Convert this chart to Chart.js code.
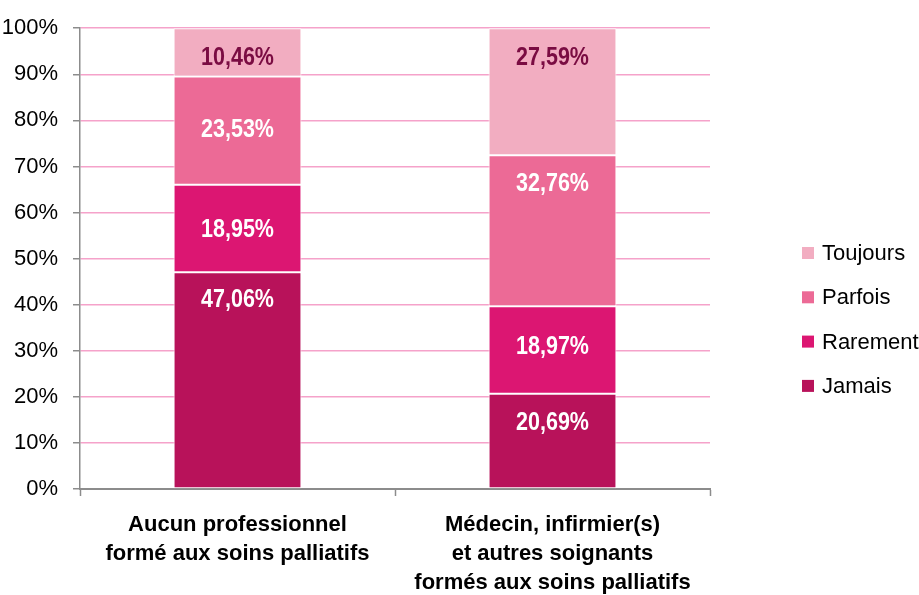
<!DOCTYPE html>
<html>
<head>
<meta charset="utf-8">
<script src="https://cdn.jsdelivr.net/npm/chart.js@4"></script>
<style>
  html, body { margin: 0; padding: 0; background: #fff; }
  #wrap { width: 919px; height: 595px; }
</style>
</head>
<body>
<div id="wrap"><canvas id="myChart" width="919" height="595"></canvas></div>
<script>
const categories = [
  ['Aucun professionnel', 'formé aux soins palliatifs'],
  ['Médecin, infirmier(s)', 'et autres soignants', 'formés aux soins palliatifs']
];
const seriesNames = ['Jamais', 'Rarement', 'Parfois', 'Toujours'];
const jamais = [47.06, 20.69];
const rarement = [18.95, 18.97];
const parfois = [23.53, 32.76];
const toujours = [10.46, 27.59];
const yTicks = [0, 10, 20, 30, 40, 50, 60, 70, 80, 90, 100];

// where each value label sits inside its segment (0 = top, 1 = bottom)
const labelSpot = [
  [0.12, 0.29],
  [0.5, 0.45],
  [0.48, 0.18],
  [0.58, 0.22]
];

const FONT = '"Liberation Sans", Arial, sans-serif';
const colors = ['#B8125A', '#DC1672', '#EC6A96', '#F2ADC1'];
const labelColors = ['#fff', '#fff', '#fff', '#7A0C42'];

const fmt = v => v.toFixed(2).replace('.', ',') + '%';

const valueLabels = {
  id: 'valueLabels',
  afterDatasetsDraw(chart) {
    const ctx = chart.ctx;
    chart.data.datasets.forEach((ds, i) => {
      chart.getDatasetMeta(i).data.forEach((bar, j) => {
        const top = bar.y, bottom = bar.base;
        const y = top + labelSpot[i][j] * (bottom - top) + 2;
        ctx.save();
        // squeeze the bold text a little so it reads like a narrow face
        ctx.translate(bar.x, y);
        ctx.scale(0.86, 1);
        ctx.font = 'bold 25px ' + FONT;
        ctx.textAlign = 'center';
        ctx.textBaseline = 'middle';
        ctx.fillStyle = labelColors[i];
        ctx.fillText(fmt(ds.data[j]), 0, 0);
        ctx.restore();
      });
    });
  }
};

// legend on the right, top item first
const sideLegend = {
  id: 'sideLegend',
  afterDraw(chart) {
    const ctx = chart.ctx;
    ctx.save();
    ctx.font = '22px ' + FONT;
    ctx.textBaseline = 'middle';
    ctx.textAlign = 'left';
    const items = chart.data.datasets.slice().reverse();
    items.forEach((ds, k) => {
      const cy = 253 + k * 44.3;
      ctx.fillStyle = ds.backgroundColor;
      ctx.fillRect(802, cy - 6, 12, 12);
      ctx.fillStyle = '#000';
      ctx.fillText(ds.label, 822, cy + 1);
    });
    ctx.restore();
  }
};

const makeSet = (name, values, i) => ({
  label: name,
  data: values,
  backgroundColor: colors[i],
  borderColor: '#fff',
  borderWidth: 1,
  borderSkipped: false,
  barPercentage: 0.406,
  categoryPercentage: 1
});

const ctx = document.getElementById('myChart').getContext('2d');
const chart = new Chart(ctx, {
  type: 'bar',
  data: {
    labels: categories,
    datasets: [
      makeSet(seriesNames[0], jamais, 0),
      makeSet(seriesNames[1], rarement, 1),
      makeSet(seriesNames[2], parfois, 2),
      makeSet(seriesNames[3], toujours, 3)
    ]
  },
  options: {
    responsive: false,
    animation: false,
    layout: { padding: { top: 27, right: 209, left: 0, bottom: 0 } },
    plugins: {
      legend: { display: false },
      tooltip: { enabled: false }
    },
    scales: {
      x: {
        stacked: true,
        border: { color: '#8c8c8c', width: 2 },
        grid: {
          offset: true,
          drawOnChartArea: false,
          tickLength: 7,
          tickColor: '#8c8c8c',
          tickWidth: 1.5
        },
        ticks: {
          color: '#000',
          padding: 14,
          maxRotation: 0,
          font: { family: FONT, size: 22, weight: 'bold', lineHeight: 1.32 }
        },
        afterFit(scale) { scale.height = 106; }
      },
      y: {
        stacked: true,
        min: 0,
        max: 100,
        afterBuildTicks(scale) { scale.ticks = yTicks.map(v => ({ value: v })); },
        border: { color: '#8c8c8c', width: 1.5 },
        grid: {
          color: c => (c.tick && c.tick.value === 0 ? 'rgba(0,0,0,0)' : '#F5A2CA'),
          lineWidth: 1.5,
          tickLength: 7,
          tickColor: '#8c8c8c',
          tickWidth: 1.5
        },
        ticks: {
          color: '#000',
          padding: 15,
          font: { family: FONT, size: 22 },
          callback: v => v + '%'
        },
        afterFit(scale) { scale.width = 80; }
      }
    }
  },
  plugins: [valueLabels, sideLegend]
});
</script>
</body>
</html>
